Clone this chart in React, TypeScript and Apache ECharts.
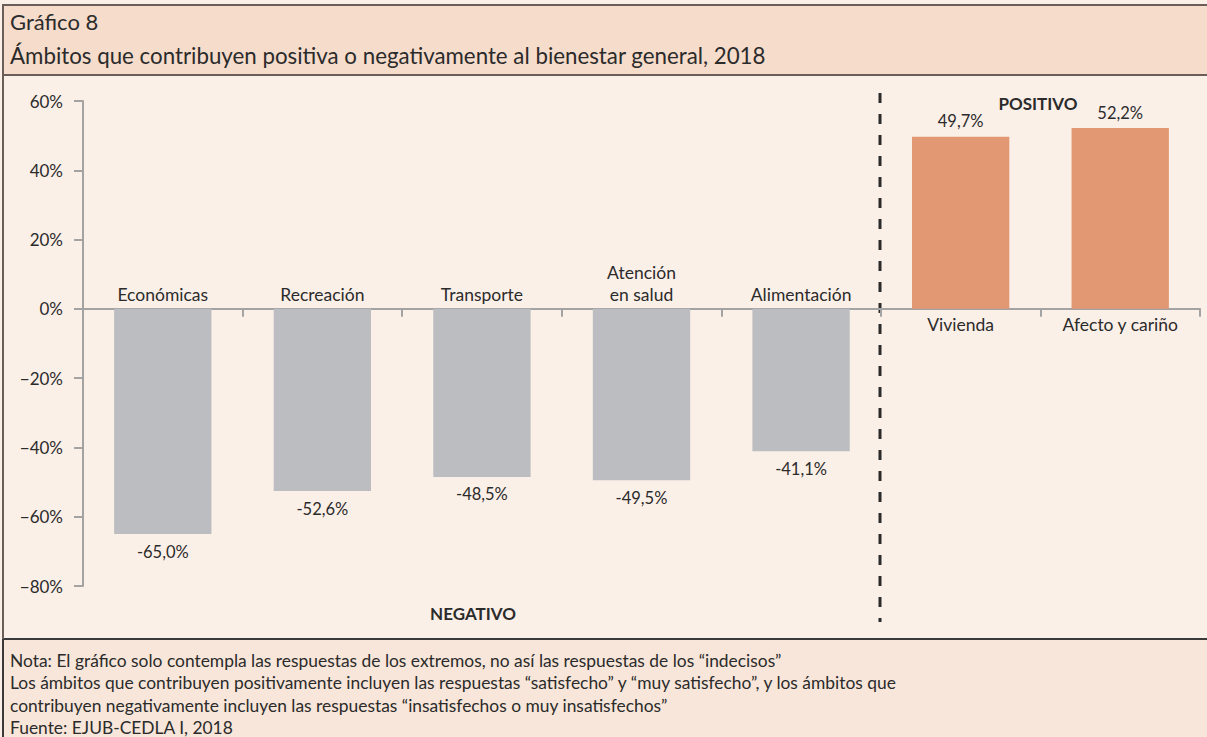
import React, { useEffect, useRef } from "react";
import * as echarts from "echarts";

const categories = ["Económicas", "Recreación", "Transporte", "Atención\nen salud", "Alimentación", "Vivienda", "Afecto y cariño"];
const values = [-65.0, -52.6, -48.5, -49.5, -41.1, 49.7, 52.2];
const yTicks = [-80, -60, -40, -20, 0, 20, 40, 60];
const titleLines = ["Gráfico 8", "Ámbitos que contribuyen positiva o negativamente al bienestar general, 2018"];
const noteLines = [
  "Nota: El gráfico solo contempla las respuestas de los extremos, no así las respuestas de los “indecisos”",
  "Los ámbitos que contribuyen positivamente incluyen las respuestas “satisfecho” y “muy satisfecho”, y los ámbitos que",
  "contribuyen negativamente incluyen las respuestas “insatisfechos o muy insatisfechos”",
  "Fuente: EJUB-CEDLA I, 2018",
];
const groupLabels = ["NEGATIVO", "POSITIVO"];

const FONT = "Lato";
const TXT = "#2b2b2b";

function fmtPct(v: number) {
  return v.toFixed(1).replace(".", ",") + "%";
}

export default function App() {
  const ref = useRef<HTMLDivElement>(null);
  useEffect(() => {
    document.body.style.margin = "0";
    const chart = echarts.init(ref.current!, undefined, { renderer: "svg" });
    const valueData = values.map((v) => ({
      value: v,
      itemStyle: { color: v < 0 ? "#bcbdc1" : "#e39874" },
      label: {
        position: v < 0 ? "bottom" : "top",
        distance: v < 0 ? 9 : 7,
      },
    }));
    const nameData = values.map((v, i) => ({
      value: v,
      label: {
        position: v < 0 ? "top" : "bottom",
        distance: v < 0 ? 3 : 5,
        formatter: categories[i],
      },
    }));
    chart.setOption({
      animation: false,
      backgroundColor: "#fbf0e8",
      textStyle: { fontFamily: FONT },
      grid: { left: 83, right: 7, top: 101, bottom: 151, containLabel: false },
      xAxis: {
        type: "category",
        data: categories,
        axisLine: { onZero: true, lineStyle: { color: "#a3a3a3", width: 2 } },
        axisTick: { show: true, length: 8, lineStyle: { color: "#a3a3a3", width: 2 } },
        axisLabel: { show: false },
        splitLine: { show: false },
      },
      yAxis: {
        type: "value",
        min: yTicks[0],
        max: yTicks[yTicks.length - 1],
        interval: 20,
        axisLine: { show: true, lineStyle: { color: "#a3a3a3", width: 2 } },
        axisTick: { show: true, length: 9, lineStyle: { color: "#a3a3a3", width: 2 } },
        splitLine: { show: false },
        axisLabel: {
          margin: 20,
          fontSize: 17,
          color: TXT,
          fontFamily: FONT,
          formatter: (v: number) => (v < 0 ? "\u2212" + Math.abs(v) : String(v)) + "%",
        },
      },
      series: [
        {
          type: "bar",
          data: valueData,
          barWidth: "61%",
          barGap: "-100%",
          z: 3,
          label: {
            show: true,
            fontSize: 16.5,
            color: TXT,
            fontFamily: FONT,
            formatter: (p: any) => fmtPct(p.value),
          },
        },
        {
          type: "bar",
          data: nameData,
          barWidth: "61%",
          barGap: "-100%",
          z: 2,
          itemStyle: { color: "rgba(0,0,0,0)" },
          label: {
            show: true,
            fontSize: 17.5,
            color: TXT,
            fontFamily: FONT,
            lineHeight: 22,
          },
          silent: true,
        },
      ],
      graphic: [
        { type: "rect", z: -10, shape: { x: 3, y: 5, width: 1210, height: 70 }, style: { fill: "#f6dccb", stroke: "#6b5d57", lineWidth: 2 } },
        { type: "rect", z: -10, shape: { x: 3, y: 639, width: 1210, height: 110 }, style: { fill: "#f7e6d9", stroke: "#3a3a3a", lineWidth: 2 } },
        { type: "line", z: -9, shape: { x1: 3, y1: 75, x2: 3, y2: 639 }, style: { stroke: "#6b5d57", lineWidth: 2 } },
        { type: "text", x: 10, y: 21, style: { text: titleLines[0], fontSize: 22, fontFamily: FONT, fill: TXT, verticalAlign: "middle" } },
        { type: "text", x: 10, y: 55, style: { text: titleLines[1], fontSize: 22.3, fontFamily: FONT, fill: TXT, verticalAlign: "middle" } },
        ...noteLines.map((t, i) => ({
          type: "text",
          x: 10,
          y: 660 + i * 22.5,
          style: { text: t, fontSize: 17.4, fontFamily: FONT, fill: TXT, verticalAlign: "middle" },
        })),
        { type: "line", shape: { x1: 880, y1: 93, x2: 880, y2: 622 }, style: { stroke: "#2a2a2a", lineWidth: 3, lineDash: [10, 11] } },
        { type: "text", x: 473, y: 613, style: { text: groupLabels[0], fontSize: 17, fontWeight: "bold", fontFamily: FONT, fill: TXT, align: "center", verticalAlign: "middle" } },
        { type: "text", x: 1038, y: 103, style: { text: groupLabels[1], fontSize: 17, fontWeight: "bold", fontFamily: FONT, fill: TXT, align: "center", verticalAlign: "middle" } },
      ],
    });
    return () => chart.dispose();
  }, []);
  return <div ref={ref} style={{ width: 1207, height: 737 }} />;
}
